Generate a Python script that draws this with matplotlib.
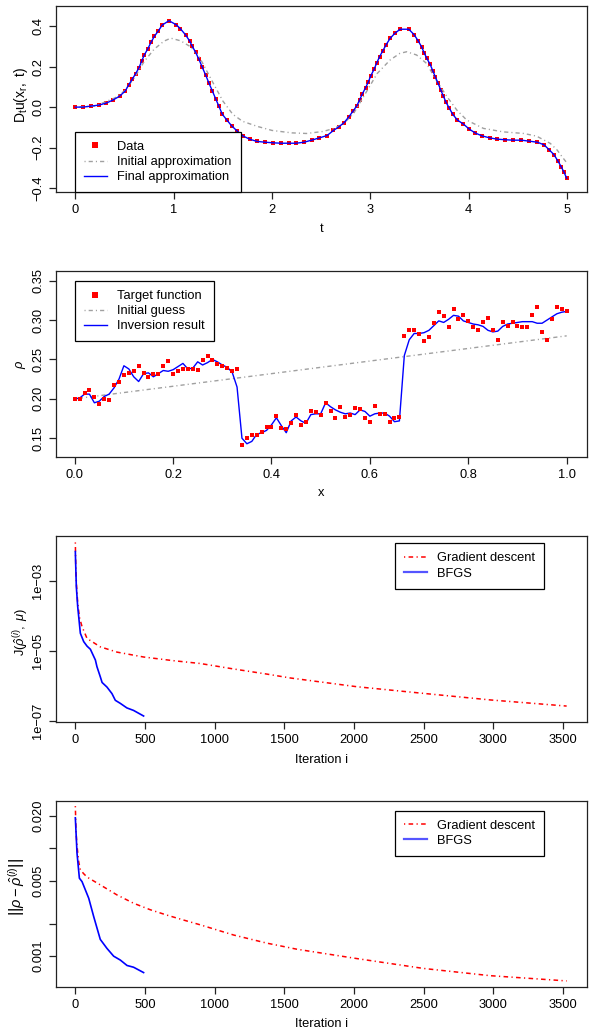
import numpy as np
import matplotlib
matplotlib.use("Agg")
import matplotlib.pyplot as plt
from matplotlib.lines import Line2D

plt.rcParams['font.family'] = ['Liberation Sans', 'DejaVu Sans']
plt.rcParams['mathtext.fontset'] = 'custom'
plt.rcParams['mathtext.rm'] = 'Liberation Sans'
plt.rcParams['mathtext.it'] = 'Liberation Sans:italic'
plt.rcParams['mathtext.bf'] = 'Liberation Sans:bold'
plt.rcParams['mathtext.sf'] = 'Liberation Sans'

# ---------------- data ----------------
# Panel 1: D_t u(x_r, t)
data_t = [0, .078, .159, .241, .315, .383, .45, .508, .542, .579, .613, .647, .674, .701,
          .735, .769, .803, .843, .884, .952, 1.026, 1.067, 1.121, 1.162, 1.189, 1.223,
          1.257, 1.291, 1.325, 1.358, 1.392, 1.426, 1.46, 1.494, 1.541, 1.589, 1.643,
          1.704, 1.772, 1.846, 1.928, 2.009, 2.09, 2.17, 2.246, 2.327, 2.402, 2.48, 2.56,
          2.625, 2.68, 2.734, 2.781, 2.822, 2.863, 2.89, 2.917, 2.951, 2.978, 3.005,
          3.039, 3.066, 3.093, 3.127, 3.161, 3.201, 3.249, 3.303, 3.391, 3.445, 3.486,
          3.52, 3.547, 3.574, 3.608, 3.635, 3.662, 3.689, 3.716, 3.743, 3.77, 3.804,
          3.838, 3.886, 3.947, 4.007, 4.068, 4.136, 4.217, 4.292, 4.373, 4.455, 4.536,
          4.617, 4.698, 4.766, 4.82, 4.868, 4.909, 4.943, 4.97, 4.997]
data_y = [0, 0, .005, .01, .02, .035, .054, .08, .109, .138, .165, .194, .227, .257,
          .286, .319, .349, .375, .405, .426, .406, .387, .356, .326, .3, .27,
          .235, .196, .158, .119, .081, .042, .004, -.035, -.064, -.092, -.117,
          -.142, -.158, -.169, -.173, -.176, -.178, -.178, -.178, -.173, -.163, -.152, -.14,
          -.115, -.097, -.076, -.048, -.021, .007, .035, .064, .095, .123, .155,
          .188, .219, .248, .278, .308, .339, .364, .384, .384, .357, .327,
          .298, .268, .24, .211, .179, .147, .117, .084, .054, .023, -.006,
          -.036, -.064, -.084, -.109, -.128, -.142, -.152, -.158, -.161, -.163, -.163,
          -.168, -.173, -.186, -.211, -.235, -.267, -.296, -.322, -.351]
final_t = data_t
final_y = data_y
init_t = [0, 0.2, 0.4, 0.5, 0.6, 0.7, 0.8, 0.9, 0.97, 1.07, 1.17, 1.26, 1.4, 1.5, 1.6,
          1.7, 1.85, 2.0, 2.2, 2.35, 2.52, 2.63, 2.73, 2.83, 2.93, 3.07, 3.2, 3.3, 3.37,
          3.47, 3.57, 3.68, 3.78, 3.88, 3.98, 4.15, 4.35, 4.56, 4.69, 4.83, 4.9, 4.95, 4.99]
init_y = [0, .005, .045, .08, .145, .225, .285, .325, .34, .327, .298, .248, .12, .03, -.035,
          -.07, -.095, -.115, -.127, -.13, -.12, -.105, -.081, -.031, .051, .166, .232, .265, .273,
          .257, .216, .125, .051, -.015, -.064, -.105, -.122, -.13, -.143, -.179, -.212, -.245, -.27]

# Panel 2: rho(x)
rho_x = [i / 100 for i in range(101)]
target_rho = [.200, .200, .208, .211, .202, .193, .200, .198, .218, .221,
              .230, .233, .235, .242, .233, .228, .231, .231, .242, .248,
              .231, .235, .238, .238, .238, .237, .249, .255, .249, .244,
              .242, .239, .235, .238, .141, .150, .154, .154, .158, .164,
              .164, .178, .163, .162, .169, .179, .167, .170, .184, .183,
              .180, .195, .185, .176, .190, .177, .180, .189, .187, .176,
              .171, .191, .181, .181, .171, .176, .177, .280, .288, .288,
              .282, .274, .278, .296, .310, .305, .291, .314, .302, .306,
              .299, .291, .288, .298, .303, .287, .275, .297, .292, .298,
              .293, .291, .291, .306, .316, .285, .275, .302, .316, .314, .312]
inversion_rho = [.200, .201, .206, .206, .195, .197, .203, .206, .214, .225,
                 .242, .238, .228, .222, .232, .233, .228, .232, .236, .235,
                 .237, .241, .245, .238, .239, .247, .243, .246, .250, .247,
                 .243, .240, .234, .215, .150, .143, .146, .155, .157, .160,
                 .167, .176, .166, .157, .172, .177, .172, .169, .180, .181,
                 .181, .195, .190, .186, .183, .181, .182, .180, .186, .184,
                 .178, .181, .182, .182, .178, .171, .172, .255, .275, .283,
                 .283, .284, .287, .293, .299, .297, .301, .306, .305, .299,
                 .297, .295, .294, .292, .287, .285, .286, .292, .295, .296,
                 .297, .298, .298, .298, .296, .296, .300, .304, .308, .310, .311]
guess_x = [0.0, 1.0]
guess_rho = [0.200, 0.280]

# Panel 3: objective J
gd_iter_J = [0, 3, 8, 17, 30, 48, 84, 179, 300, 490, 700, 897, 1136, 1375, 1542, 2021, 2499, 2977, 3527]
gd_J = [1.26e-2, 2.5e-3, 7.9e-4, 2.29e-4, 8.9e-5, 4.9e-5, 2.24e-5, 1.29e-5, 9.1e-6, 6.6e-6,
        5.2e-6, 4.3e-6, 3.0e-6, 2.14e-6, 1.66e-6, 9.3e-7, 6.0e-7, 3.9e-7, 2.6e-7]
bfgs_iter_J = [0, 7, 17, 36, 60, 84, 108, 144, 155, 179, 192, 227, 263, 287, 323, 370, 418, 490]
bfgs_J = [6.9e-3, 6.9e-4, 1.82e-4, 3.16e-5, 1.82e-5, 1.35e-5, 1.10e-5, 5.4e-6, 3.5e-6, 1.8e-6,
          1.23e-6, 9.1e-7, 5.9e-7, 3.8e-7, 3.1e-7, 2.3e-7, 1.95e-7, 1.35e-7]

# Panel 4: error norm
gd_iter_E = [0, 5, 12, 24, 36, 60, 84, 179, 299, 418, 538, 657, 777, 897, 1136, 1375, 1590, 2021, 2499, 2977, 3527]
gd_E = [0.0245, 0.0141, 0.0105, 0.0075, 0.0063, 0.0058, 0.0054, 0.00457, 0.00369, 0.00309,
        0.00269, 0.0024, 0.00216, 0.00195, 0.00157, 0.00132, 0.00116, 0.00095, 0.00077, 0.00066, 0.00059]
bfgs_iter_E = [0, 12, 29, 48, 96, 132, 179, 227, 275, 323, 371, 418, 490]
bfgs_E = [0.0191, 0.0090, 0.00527, 0.0049, 0.00344, 0.00232, 0.00143, 0.00118, 0.00100,
          0.00092, 0.00082, 0.00079, 0.000705]

# ---------------- figure ----------------
FS = 9.3
W, H = 597, 1034
fig = plt.figure(figsize=(W / 100, H / 100), dpi=100)
L, R = 55.7, 586.7


def axes_at(top, bottom):
    return fig.add_axes([L / W, 1 - bottom / H, (R - L) / W, (bottom - top) / H])


DD = (0, (0.8, 2.2, 3.0, 2.2))
EDGE = '#222222'


def style(ax):
    for s in ax.spines.values():
        s.set_linewidth(0.9)
        s.set_color(EDGE)
    ax.tick_params(direction='out', length=5.2, width=0.9, labelsize=FS, color=EDGE, pad=3)
    ax.minorticks_off()


def legend(ax, handles, labels, loc, anchor):
    leg = ax.legend(handles, labels, loc=loc, bbox_to_anchor=anchor, borderaxespad=0,
                    frameon=True, fancybox=False, edgecolor='black', framealpha=1,
                    fontsize=FS, handlelength=1.8, handletextpad=0.8, labelspacing=0.24,
                    borderpad=0.7)
    leg.get_frame().set_linewidth(0.9)
    return leg


def ylab(ax, text, x, y, fs=FS):
    ax.text(x, y, text, transform=ax.transAxes, rotation=90, ha='center', va='center', fontsize=fs)


# Panel 1
ax1 = axes_at(5.7, 192.3)
ax1.plot(data_t, data_y, 's', color='red', ms=3.2, mew=0, zorder=2)
ax1.plot(init_t, init_y, color='#a0a0a0', lw=1.0, ls=DD, zorder=3)
ax1.plot(final_t, final_y, color='blue', lw=1.0, zorder=4)
ax1.set_xlim(-0.2, 5.2)
ax1.set_ylim(-0.42, 0.50)
style(ax1)
ax1.set_xticks([0, 1, 2, 3, 4, 5])
ax1.set_yticks([-0.4, -0.2, 0.0, 0.2, 0.4], ['\u22120.4', '\u22120.2', '0.0', '0.2', '0.4'],
               rotation=90, va='center')
ax1.set_xlabel('t', fontsize=FS)
ax1.xaxis.set_label_coords(0.5, -0.165)
ylab(ax1, r'$\mathrm{D_tu(x_r,\ t)}$', -0.066, 0.52, fs=10)
legend(ax1,
       [Line2D([], [], ls='none', marker='s', color='red', ms=4.2, mew=0),
        Line2D([], [], color='#a0a0a0', lw=1.0, ls=DD),
        Line2D([], [], color='blue', lw=1.0)],
       ['Data', 'Initial approximation', 'Final approximation'],
       'lower left', (0.0358, 0.0))

# Panel 2
ax2 = axes_at(270.7, 457.3)
ax2.plot(guess_x, guess_rho, color='#a0a0a0', lw=1.0, ls=DD, zorder=2)
ax2.plot(rho_x, inversion_rho, color='blue', lw=1.0, zorder=3)
ax2.plot(rho_x, target_rho, 's', color='red', ms=3.3, mew=0, zorder=4)
ax2.set_xlim(-0.0386, 1.0407)
ax2.set_ylim(0.1258, 0.3627)
style(ax2)
ax2.set_xticks([0.0, 0.2, 0.4, 0.6, 0.8, 1.0])
ax2.set_xticklabels(['0.0', '0.2', '0.4', '0.6', '0.8', '1.0'])
ax2.set_yticks([0.15, 0.20, 0.25, 0.30, 0.35], ['0.15', '0.20', '0.25', '0.30', '0.35'],
               rotation=90, va='center')
ax2.set_xlabel('x', fontsize=FS)
ax2.xaxis.set_label_coords(0.5, -0.16)
ylab(ax2, r'$\rho$', -0.065, 0.5)
legend(ax2,
       [Line2D([], [], ls='none', marker='s', color='red', ms=4.2, mew=0),
        Line2D([], [], color='#a0a0a0', lw=1.0, ls=DD),
        Line2D([], [], color='blue', lw=1.0)],
       ['Target function', 'Initial guess', 'Inversion result'],
       'upper left', (0.0358, 0.945))

# Panel 3
ax3 = axes_at(535.7, 722.3)
ax3.plot(gd_iter_J, gd_J, color='red', lw=1.1, ls=DD, zorder=2)
ax3.plot(bfgs_iter_J, bfgs_J, color='blue', lw=1.2, zorder=3)
ax3.set_yscale('log')
ax3.set_xlim(-141, 3671)
ax3.set_ylim(10 ** -7.05, 10 ** -1.707)
style(ax3)
ax3.set_xticks([0, 500, 1000, 1500, 2000, 2500, 3000, 3500])
ax3.set_yticks([1e-7, 1e-5, 1e-3], ['1e\u221207', '1e\u221205', '1e\u221203'], rotation=90, va='center')
ax3.minorticks_off()
ax3.set_xlabel('Iteration i', fontsize=FS)
ax3.xaxis.set_label_coords(0.5, -0.168)
ylab(ax3, r'$\mathrm{J}(\hat{\rho}^{(i)},\ \mu)$', -0.0646, 0.487)
legend(ax3,
       [Line2D([], [], color='red', lw=1.1, ls=DD), Line2D([], [], color='#5555ff', lw=1.6)],
       ['Gradient descent', 'BFGS'], 'upper left', (0.6384, 0.959))

# Panel 4
ax4 = axes_at(800.7, 987.3)
ax4.plot(gd_iter_E, gd_E, color='red', lw=1.1, ls=DD, zorder=2)
ax4.plot(bfgs_iter_E, bfgs_E, color='blue', lw=1.2, zorder=3)
ax4.set_yscale('log')
ax4.set_xlim(-141, 3671)
ax4.set_ylim(0.000515, 0.0275)
style(ax4)
ax4.set_xticks([0, 500, 1000, 1500, 2000, 2500, 3000, 3500])
ax4.set_yticks([0.001, 0.002, 0.005, 0.01, 0.02], ['0.001', '', '0.005', '', '0.020'],
               rotation=90, va='center')
ax4.minorticks_off()
ax4.set_xlabel('Iteration i', fontsize=FS)
ax4.xaxis.set_label_coords(0.5, -0.163)
ylab(ax4, r'$\left|\left|\rho - \hat{\rho}^{(i)}\right|\right|$', -0.073, 0.537, fs=10.5)
legend(ax4,
       [Line2D([], [], color='red', lw=1.1, ls=DD), Line2D([], [], color='#5555ff', lw=1.6)],
       ['Gradient descent', 'BFGS'], 'upper left', (0.6384, 0.946))

fig.savefig('out.png', dpi=100)
